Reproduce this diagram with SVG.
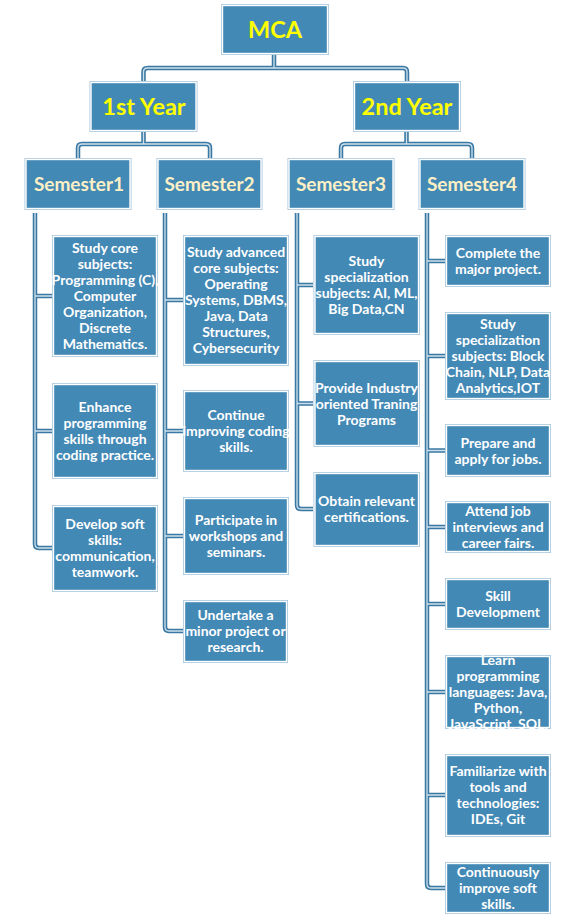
<svg xmlns="http://www.w3.org/2000/svg" xmlns:xlink="http://www.w3.org/1999/xlink" width="576" height="921" viewBox="0 0 576 921">
<style>
.o{fill:#a9c6dc}
.b{fill:#4389b5;stroke:#ffffff;stroke-width:1.4}
.pipe{fill:none;stroke:#3a79a3;stroke-width:4.5}
.hl{fill:none;stroke:#cfe0ec;stroke-width:1.3}
text{font-family:"Lato","Open Sans",sans-serif;font-weight:bold;text-anchor:middle}
.t1{font-size:23.5px;fill:#ffff00}
.t2{font-size:19px;fill:#fdf0c6}
.t3{font-size:14px;fill:#ffffff}
</style>
<defs>
<path id="conn" d="M274,55 V68 M143.5,81 V72 Q143.5,68 147.5,68 H403 Q407,68 407,72 V81
M143.5,132 V144 M78,158 V148 Q78,144 82,144 H206 Q210,144 210,148 V158
M406.5,132 V144 M341,158 V148 Q341,144 345,144 H468 Q472,144 472,148 V158
M35,213 V544 Q35,548 39,548 H52 M35,296 H52 M35,431 H52
M165,213 V627 Q165,631 169,631 H183 M165,300 H183 M165,431 H183 M165,536 H183
M297,213 V505 Q297,509 301,509 H313 M297,285 H313 M297,403.5 H313
M427,213 V884 Q427,888 431,888 H445 M427,261 H445 M427,356 H445 M427,450.5 H445 M427,527 H445 M427,604 H445 M427,692 H445 M427,795 H445"/>
</defs>
<g id="connectors">
<use xlink:href="#conn" class="pipe"/>
<use xlink:href="#conn" class="hl"/>
</g>
<g id="mca"><rect class="o" x="221" y="4" width="108" height="51"/><rect class="b" x="222.5" y="5.5" width="105" height="48"/><text class="t1" x="275" y="38">MCA</text></g>
<g id="year1"><rect class="o" x="89.5" y="81" width="108" height="51"/><rect class="b" x="91" y="82.5" width="105" height="48"/><text class="t1" x="144" y="115">1st Year</text></g>
<g id="year2"><rect class="o" x="353" y="81" width="108" height="51"/><rect class="b" x="354.5" y="82.5" width="105" height="48"/><text class="t1" x="407" y="115">2nd Year</text></g>
<g id="sem1"><rect class="o" x="24.5" y="158" width="107" height="52"/><rect class="b" x="26" y="159.5" width="104" height="49"/><text class="t2" x="79" y="191">Semester1</text></g>
<g id="sem2"><rect class="o" x="156.5" y="158" width="106" height="52"/><rect class="b" x="158" y="159.5" width="103" height="49"/><text class="t2" x="209.5" y="191">Semester2</text></g>
<g id="sem3"><rect class="o" x="287.5" y="158" width="107" height="52"/><rect class="b" x="289" y="159.5" width="104" height="49"/><text class="t2" x="341" y="191">Semester3</text></g>
<g id="sem4"><rect class="o" x="418.5" y="158" width="107" height="52"/><rect class="b" x="420" y="159.5" width="104" height="49"/><text class="t2" x="472" y="191">Semester4</text></g>

<g id="s1b1"><rect class="o" x="52" y="235" width="106" height="122"/><rect class="b" x="53.5" y="236.5" width="103" height="119"/>
<text class="t3" x="105" y="253">Study core</text><text class="t3" x="105" y="269">subjects:</text><text class="t3" x="105" y="285">Programming (C),</text><text class="t3" x="105" y="301">Computer</text><text class="t3" x="105" y="317">Organization,</text><text class="t3" x="105" y="333">Discrete</text><text class="t3" x="105" y="349">Mathematics.</text></g>
<g id="s1b2"><rect class="o" x="52" y="383" width="106" height="96"/><rect class="b" x="53.5" y="384.5" width="103" height="93"/>
<text class="t3" x="105" y="412">Enhance</text><text class="t3" x="105" y="428">programming</text><text class="t3" x="105" y="444">skills through</text><text class="t3" x="105" y="460">coding practice.</text></g>
<g id="s1b3"><rect class="o" x="52" y="505" width="106" height="87"/><rect class="b" x="53.5" y="506.5" width="103" height="84"/>
<text class="t3" x="105" y="529">Develop soft</text><text class="t3" x="105" y="545">skills:</text><text class="t3" x="105" y="561">communication,</text><text class="t3" x="105" y="577">teamwork.</text></g>

<g id="s2b1"><rect class="o" x="183" y="235" width="106" height="131"/><rect class="b" x="184.5" y="236.5" width="103" height="128"/>
<text class="t3" x="236" y="257">Study advanced</text><text class="t3" x="236" y="273">core subjects:</text><text class="t3" x="236" y="289">Operating</text><text class="t3" x="236" y="305">Systems, DBMS,</text><text class="t3" x="236" y="321">Java, Data</text><text class="t3" x="236" y="337">Structures,</text><text class="t3" x="236" y="353">Cybersecurity</text></g>
<g id="s2b2"><rect class="o" x="183" y="390" width="106" height="82"/><rect class="b" x="184.5" y="391.5" width="103" height="79"/>
<text class="t3" x="236" y="420">Continue</text><text class="t3" x="236" y="436">improving coding</text><text class="t3" x="236" y="452">skills.</text></g>
<g id="s2b3"><rect class="o" x="183" y="497" width="106" height="78"/><rect class="b" x="184.5" y="498.5" width="103" height="75"/>
<text class="t3" x="236" y="525">Participate in</text><text class="t3" x="236" y="541">workshops and</text><text class="t3" x="236" y="557">seminars.</text></g>
<g id="s2b4"><rect class="o" x="183" y="600" width="105" height="63"/><rect class="b" x="184.5" y="601.5" width="102" height="60"/>
<text class="t3" x="235.5" y="620">Undertake a</text><text class="t3" x="235.5" y="636">minor project or</text><text class="t3" x="235.5" y="652">research.</text></g>

<g id="s3b1"><rect class="o" x="313.5" y="235" width="106.5" height="100"/><rect class="b" x="315" y="236.5" width="103.5" height="97"/>
<text class="t3" x="366.5" y="266">Study</text><text class="t3" x="366.5" y="282">specialization</text><text class="t3" x="366.5" y="298">subjects: AI, ML,</text><text class="t3" x="366.5" y="314">Big Data,CN</text></g>
<g id="s3b2"><rect class="o" x="313.5" y="360" width="106.5" height="87"/><rect class="b" x="315" y="361.5" width="103.5" height="84"/>
<text class="t3" x="366.5" y="392.5">Provide Industry</text><text class="t3" x="366.5" y="408.5">oriented Traning</text><text class="t3" x="366.5" y="424.5">Programs</text></g>
<g id="s3b3"><rect class="o" x="313.5" y="472" width="106.5" height="75"/><rect class="b" x="315" y="473.5" width="103.5" height="72"/>
<text class="t3" x="366.5" y="506">Obtain relevant</text><text class="t3" x="366.5" y="522">certifications.</text></g>

<g id="s4b1"><rect class="o" x="445" y="235" width="106" height="52"/><rect class="b" x="446.5" y="236.5" width="103" height="49"/>
<text class="t3" x="498" y="258">Complete the</text><text class="t3" x="498" y="274">major project.</text></g>
<g id="s4b2"><rect class="o" x="445" y="312" width="106" height="88"/><rect class="b" x="446.5" y="313.5" width="103" height="85"/>
<text class="t3" x="498" y="329">Study</text><text class="t3" x="498" y="345">specialization</text><text class="t3" x="498" y="361">subjects: Block</text><text class="t3" x="498" y="377">Chain, NLP, Data</text><text class="t3" x="498" y="393">Analytics,IOT</text></g>
<g id="s4b3"><rect class="o" x="445" y="424" width="106" height="53"/><rect class="b" x="446.5" y="425.5" width="103" height="50"/>
<text class="t3" x="498" y="447.5">Prepare and</text><text class="t3" x="498" y="463.5">apply for jobs.</text></g>
<g id="s4b4"><rect class="o" x="445" y="501" width="106" height="52"/><rect class="b" x="446.5" y="502.5" width="103" height="49"/>
<text class="t3" x="498" y="516">Attend job</text><text class="t3" x="498" y="532">interviews and</text><text class="t3" x="498" y="548">career fairs.</text></g>
<g id="s4b5"><rect class="o" x="445" y="578" width="106" height="52"/><rect class="b" x="446.5" y="579.5" width="103" height="49"/>
<text class="t3" x="498" y="601">Skill</text><text class="t3" x="498" y="617">Development</text></g>
<g id="s4b6"><rect class="o" x="445" y="655" width="106" height="74"/><rect class="b" x="446.5" y="656.5" width="103" height="71"/>
<text class="t3" x="498" y="665">Learn</text><text class="t3" x="498" y="681">programming</text><text class="t3" x="498" y="697">languages: Java,</text><text class="t3" x="498" y="713">Python,</text><text class="t3" x="498" y="729">JavaScript, SQL.</text></g>
<g id="s4b7"><rect class="o" x="445" y="754" width="106" height="83"/><rect class="b" x="446.5" y="755.5" width="103" height="80"/>
<text class="t3" x="498" y="776">Familiarize with</text><text class="t3" x="498" y="792">tools and</text><text class="t3" x="498" y="808">technologies:</text><text class="t3" x="498" y="824">IDEs, Git</text></g>
<g id="s4b8"><rect class="o" x="445" y="862" width="106" height="52"/><rect class="b" x="446.5" y="863.5" width="103" height="49"/>
<text class="t3" x="498" y="877">Continuously</text><text class="t3" x="498" y="893">improve soft</text><text class="t3" x="498" y="909">skills.</text></g>
</svg>
